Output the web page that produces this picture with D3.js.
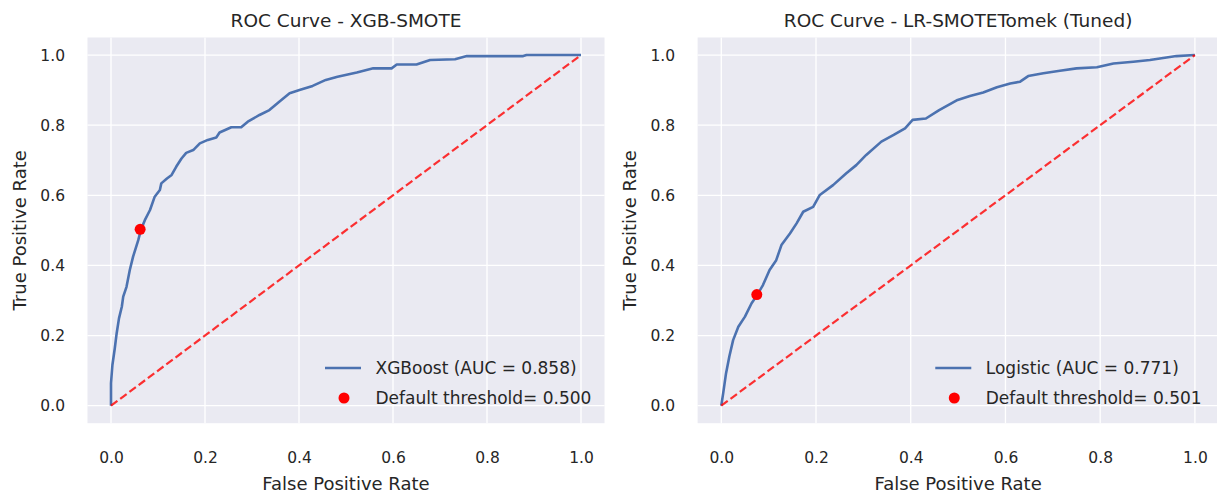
<!DOCTYPE html>
<meta charset="utf-8">
<html>
<head>
  <script src="https://d3js.org/d3.v7.min.js"></script>
  <style>
    body { margin: 0; background: #fff; }
    text { font-family: "DejaVu Sans", sans-serif; fill: #262626; }
  </style>
</head>
<body>
<script>
// ROC points (fpr, tpr)
var xgb_fpr = [0, 0, 0.003, 0.008, 0.012, 0.017, 0.023, 0.026, 0.033, 0.040, 0.047, 0.058, 0.064, 0.072, 0.083, 0.093, 0.104, 0.107, 0.119, 0.129, 0.139, 0.150, 0.160, 0.175, 0.189, 0.206, 0.224, 0.231, 0.256, 0.277, 0.291, 0.316, 0.337, 0.358, 0.380, 0.401, 0.429, 0.457, 0.482, 0.523, 0.558, 0.597, 0.608, 0.650, 0.679, 0.732, 0.757, 0.877, 0.884, 1];
var xgb_tpr = [0, 0.064, 0.116, 0.163, 0.206, 0.249, 0.282, 0.311, 0.339, 0.387, 0.425, 0.472, 0.503, 0.529, 0.558, 0.596, 0.615, 0.634, 0.648, 0.658, 0.682, 0.705, 0.721, 0.729, 0.748, 0.758, 0.765, 0.779, 0.794, 0.794, 0.810, 0.829, 0.843, 0.867, 0.891, 0.900, 0.912, 0.929, 0.938, 0.950, 0.962, 0.962, 0.973, 0.973, 0.986, 0.988, 0.997, 0.997, 1.0, 1];

var lr_fpr = [0, 0.004, 0.010, 0.017, 0.025, 0.036, 0.050, 0.064, 0.076, 0.088, 0.102, 0.116, 0.127, 0.145, 0.159, 0.173, 0.194, 0.208, 0.236, 0.264, 0.285, 0.306, 0.338, 0.364, 0.388, 0.404, 0.432, 0.460, 0.499, 0.525, 0.553, 0.582, 0.610, 0.631, 0.648, 0.680, 0.715, 0.750, 0.793, 0.828, 0.870, 0.905, 0.961, 1];
var lr_tpr = [0, 0.035, 0.092, 0.140, 0.187, 0.225, 0.254, 0.292, 0.316, 0.344, 0.387, 0.415, 0.458, 0.491, 0.520, 0.553, 0.567, 0.601, 0.629, 0.663, 0.686, 0.715, 0.753, 0.772, 0.791, 0.815, 0.819, 0.843, 0.872, 0.883, 0.893, 0.908, 0.919, 0.924, 0.940, 0.948, 0.955, 0.962, 0.965, 0.976, 0.981, 0.986, 0.997, 1];

var titles = ["ROC Curve - XGB-SMOTE", "ROC Curve - LR-SMOTETomek (Tuned)"];
var model_labels = ["XGBoost (AUC = 0.858)", "Logistic (AUC = 0.771)"];
var threshold_labels = ["Default threshold= 0.500", "Default threshold= 0.501"];
var threshold_points = [[0.062, 0.503], [0.075, 0.317]];
var ticks = [0, 0.2, 0.4, 0.6, 0.8, 1.0];

var panels = [
  {fpr: xgb_fpr, tpr: xgb_tpr, left: 87.5, right: 604.5},
  {fpr: lr_fpr, tpr: lr_tpr, left: 697.6, right: 1218.6}
];

var svg = d3.select("body").append("svg")
    .attr("width", 1217)
    .attr("height", 496);

var top_y = 37.5, bottom_y = 423.2;

panels.forEach(function(p, i){
    var x = d3.scaleLinear().domain([-0.05, 1.05]).range([p.left, p.right]),
        y = d3.scaleLinear().domain([-0.05, 1.05]).range([bottom_y, top_y]);
    var g = svg.append("g");

    g.append("rect")
        .attr("x", p.left).attr("y", top_y)
        .attr("width", p.right - p.left).attr("height", bottom_y - top_y)
        .attr("fill", "#eaeaf2");

    // grid
    g.selectAll(".vgrid").data(ticks).enter().append("line")
        .attr("x1", d => x(d)).attr("x2", d => x(d))
        .attr("y1", top_y).attr("y2", bottom_y)
        .attr("stroke", "#fff").attr("stroke-width", 1.3);
    g.selectAll(".hgrid").data(ticks).enter().append("line")
        .attr("y1", d => y(d)).attr("y2", d => y(d))
        .attr("x1", p.left).attr("x2", p.right)
        .attr("stroke", "#fff").attr("stroke-width", 1.3);

    // axes
    var xa = g.append("g")
        .attr("transform", "translate(0," + bottom_y + ")")
        .call(d3.axisBottom(x).tickValues(ticks).tickFormat(d3.format(".1f")).tickSize(0).tickPadding(29));
    var ya = g.append("g")
        .attr("transform", "translate(" + p.left + ",0)")
        .call(d3.axisLeft(y).tickValues(ticks).tickFormat(d3.format(".1f")).tickSize(0).tickPadding(22.5));
    [xa, ya].forEach(function(a){
        a.select(".domain").remove();
        a.selectAll("text").attr("font-size", "15.5px").attr("fill", "#262626")
            .style("font-family", "'DejaVu Sans', sans-serif");
    });

    // curve
    var pts = p.fpr.map(function(f, k){ return [f, p.tpr[k]]; });
    g.append("path")
        .datum(pts)
        .attr("d", d3.line().x(d => x(d[0])).y(d => y(d[1])))
        .attr("fill", "none")
        .attr("stroke", "#4c72b0")
        .attr("stroke-width", 2.6)
        .attr("stroke-linejoin", "round");

    // chance line
    g.append("line")
        .attr("x1", x(0)).attr("y1", y(0))
        .attr("x2", x(1)).attr("y2", y(1))
        .attr("stroke", "red").attr("stroke-opacity", 0.8)
        .attr("stroke-width", 2.2)
        .attr("stroke-dasharray", "8,3.5");

    // threshold dot
    g.append("circle")
        .attr("cx", x(threshold_points[i][0])).attr("cy", y(threshold_points[i][1]))
        .attr("r", 5.5).attr("fill", "red");

    // legend
    var lx = x(0) + 214;
    g.append("line")
        .attr("x1", lx).attr("x2", lx + 36)
        .attr("y1", 368).attr("y2", 368)
        .attr("stroke", "#4c72b0").attr("stroke-width", 2.6);
    g.append("circle")
        .attr("cx", lx + 19).attr("cy", 398).attr("r", 5.5).attr("fill", "red");
    g.append("text").attr("x", lx + 50.5).attr("y", 368).attr("dy", "0.35em")
        .attr("font-size", "17px").text(model_labels[i]);
    g.append("text").attr("x", lx + 50.5).attr("y", 398).attr("dy", "0.35em")
        .attr("font-size", "17px").text(threshold_labels[i]);

    // labels
    g.append("text")
        .attr("x", (p.left + p.right) / 2).attr("y", 26.5)
        .attr("text-anchor", "middle").attr("font-size", "18.5px")
        .text(titles[i]);
    g.append("text")
        .attr("x", (x(0) + x(1)) / 2).attr("y", 489.5)
        .attr("text-anchor", "middle").attr("font-size", "18px")
        .text("False Positive Rate");
    g.append("text")
        .attr("transform", "translate(" + (p.left - 61.5) + "," + ((top_y + bottom_y) / 2) + ") rotate(-90)")
        .attr("text-anchor", "middle").attr("font-size", "18px")
        .text("True Positive Rate");
});
</script>
</body>
</html>
